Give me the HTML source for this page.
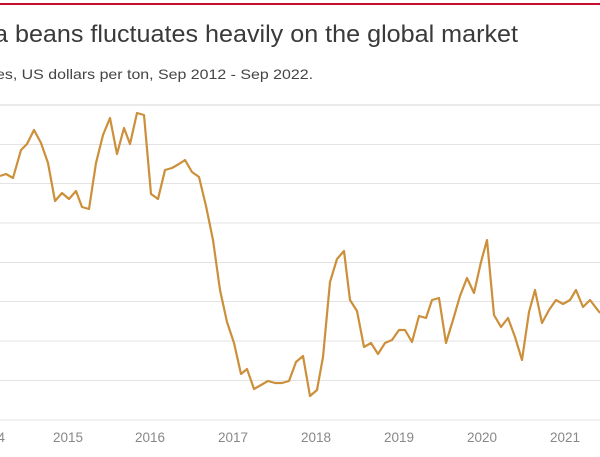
<!DOCTYPE html>
<html><head><meta charset="utf-8"><style>
body{margin:0;background:#fff;width:600px;height:452px;overflow:hidden;font-family:"Liberation Sans",sans-serif}
</style></head><body>
<svg width="600" height="452" viewBox="0 0 600 452" xmlns="http://www.w3.org/2000/svg">
<rect x="0" y="3" width="600" height="2" fill="#c8102e"/>
<text x="-6" y="42" font-size="24" fill="#3a3a3a" textLength="524" lengthAdjust="spacingAndGlyphs" font-family="Liberation Sans, sans-serif">a beans fluctuates heavily on the global market</text>
<text x="-4" y="79" font-size="14" fill="#444" textLength="317" lengthAdjust="spacingAndGlyphs" font-family="Liberation Sans, sans-serif">es, US dollars per ton, Sep 2012 - Sep 2022.</text>
<g stroke="#e3e3e3" stroke-width="1">
<line x1="0" x2="600" y1="105" y2="105" stroke-width="1.5"/>
<line x1="0" x2="600" y1="144.5" y2="144.5"/>
<line x1="0" x2="600" y1="183.5" y2="183.5"/>
<line x1="0" x2="600" y1="223" y2="223"/>
<line x1="0" x2="600" y1="262.5" y2="262.5"/>
<line x1="0" x2="600" y1="301.5" y2="301.5"/>
<line x1="0" x2="600" y1="341" y2="341"/>
<line x1="0" x2="600" y1="380.5" y2="380.5"/>
<line x1="0" x2="600" y1="420" y2="420"/>
</g>
<g font-size="13.5" fill="#888" text-anchor="middle" font-family="Liberation Sans, sans-serif">
<text x="-10" y="442">2014</text>
<text x="68" y="442">2015</text>
<text x="150" y="442">2016</text>
<text x="233" y="442">2017</text>
<text x="316" y="442">2018</text>
<text x="399" y="442">2019</text>
<text x="482" y="442">2020</text>
<text x="565" y="442">2021</text>
</g>
<polyline fill="none" stroke="#cc8f3a" stroke-width="2.2" stroke-linejoin="round" points="0,176 6,174 13,178 21,150 27,144 34,130 41,143 48,163 55,201 62,193 69,199 76,191 82,207 89,209 96,163 103,135 110,118 117,154 124,128 130,144 137,113 144,115 151,194 158,199 165,170 172,168 179,164 185,160 192,172 199,177 206,206 213,240 220,290 227,322 234,343 241,374 247,369 254,389 261,385 268,381 275,383 282,383 289,381 296,362 303,356 310,396 317,390 323,357 330,282 337,259 344,251 350,300 357,311 364,347 371,343 378,354 385,343 392,340 399,330 405,330 412,342 419,316 426,318 432,300 439,298 446,343 453,320 460,296 467,278 474,293 481,262 487,240 494,315 501,327 508,318 515,337 522,360 529,312 535,290 542,323 549,310 556,300 563,304 570,300 576,290 583,307 590,300 600,313"/>
</svg>
</body></html>
